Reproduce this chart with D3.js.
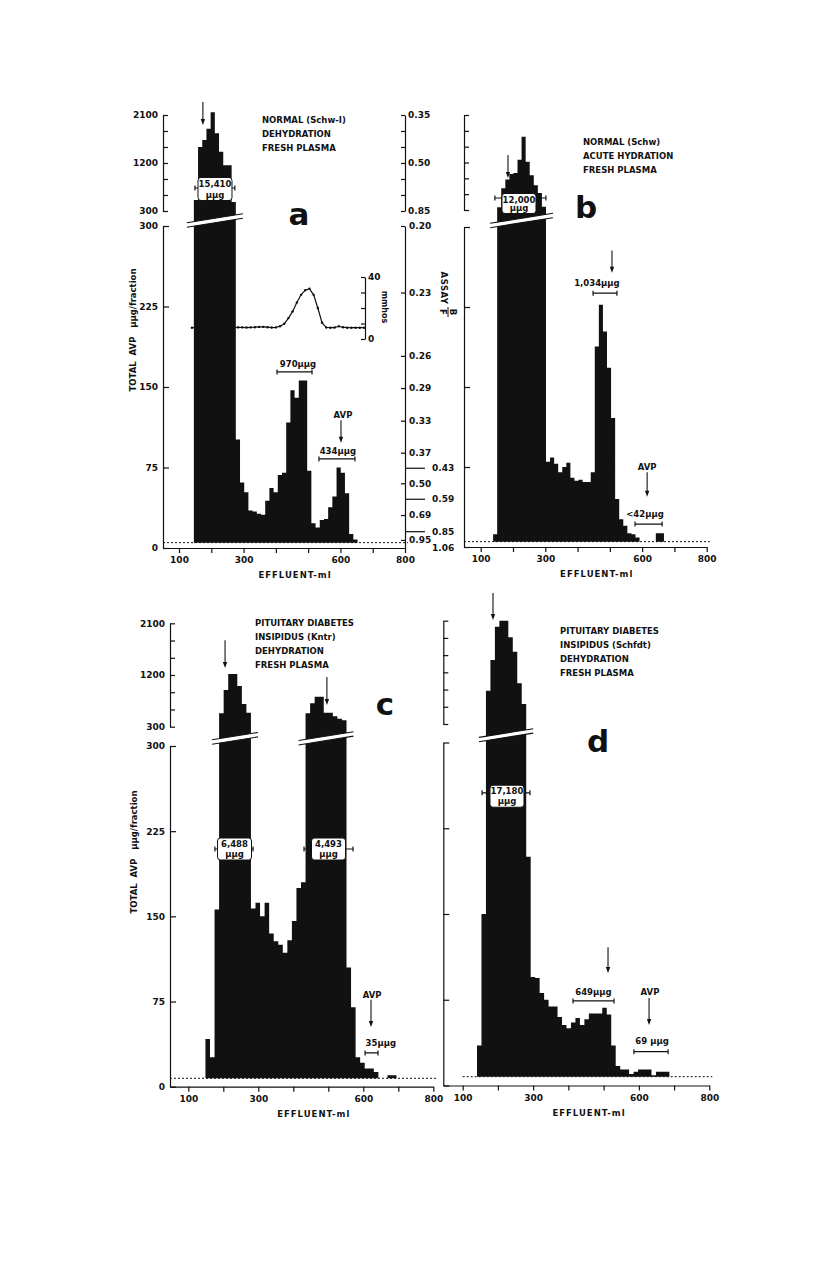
<!DOCTYPE html>
<html>
<head>
<meta charset="utf-8">
<script src="https://cdn.jsdelivr.net/npm/d3@7/dist/d3.min.js"></script>
<style>
body { margin: 0; background: #fff; }
svg text { font-family: "DejaVu Sans", sans-serif; font-weight: bold; fill: #111; }
.lbl { font-size: 8.5px; }
.tk text { font-size: 9px; }
.big { font-size: 31px; }
</style>
</head>
<body>
<svg id="fig" width="816" height="1261"></svg>
<script>
//--shared axis values--
var xTicks = [100, 200, 300, 400, 500, 600, 700, 800];
var xLabels = [100, 300, 600, 800];
var lowTicks = [0, 75, 150, 225, 300];
var upTicks = [300, 600, 900, 1200, 1500, 1800, 2100];
var upLabels = [300, 1200, 2100];

//--panel a: normal, dehydration (fractions of 13 ml from 146 ml)--
var aStartMl = 146, aStepMl = 13, aBase = 5;
var aAvp = [506, 1500, 1630, 1840, 2150, 1760, 1410, 1160, 1160, 470,
  101, 61, 52, 35, 34, 32, 31, 44, 56, 52, 68, 70, 117, 147, 140, 156, 156,
  72, 23, 19, 26, 27, 38, 48, 75, 70, 51, 13, 8];
var aText = ["NORMAL (Schw-I)", "DEHYDRATION", "FRESH PLASMA"];

//--conductivity (mmhos), panel a inset--
var condStartMl = 140, condStepMl = 13;
var condMmhos = [7.3, 7.3, 7.2, 7.3, 7.3, 7.2, 7.3, 7.3, 7.3, 7.4, 7.4, 7.5, 7.5, 7.4,
  7.5, 7.6, 7.8, 7.8, 7.6, 7.4, 7.5, 8.2, 9.8, 13.5, 17.8, 23.5, 28.5, 31.5, 32.5,
  28.5, 20, 10.5, 7.4, 7.3, 7.4, 8.2, 7.6, 7.3, 7.3, 7.3, 7.3, 7.3];
var condTicks = [0, 10, 20, 30, 40];

//--B/F assay scale, panel a right side--
var assayUpLabels = ["0.35", "0.50", "0.85"];
var assayUpAt = [2100, 1200, 300];
var assayLowLabels = ["0.20", "0.23", "0.26", "0.29", "0.33", "0.37", "0.43", "0.50", "0.59", "0.69", "0.85", "0.95", "1.06"];
var assayLowAt = [300, 238, 179, 149, 118.6, 88.8, 74.3, 60.3, 45.4, 30.7, 15.2, 7.5, 0];
var assayKind = ["s", "s", "s", "s", "s", "s", "L", "s", "L", "s", "L", "s", "o"];

//--panel b: normal, acute hydration--
var bStartMl = 138.4, bStepMl = 12.6, bBase = 5;
var bAvp = [12, 350, 710, 880, 980, 1000, 1250, 1690, 1215, 960, 770, 620, 360,
  80, 84, 78, 70, 75, 79, 65, 62, 63, 61, 61, 70, 188, 227, 202, 168, 121,
  45, 26, 20, 13, 12, 9, 0, 0, 0, 0, 13, 13];
var bText = ["NORMAL (Schw)", "ACUTE HYDRATION", "FRESH PLASMA"];

//--panel c: pituitary diabetes insipidus (Kntr)--
var cStartMl = 149, cStepMl = 13, cBase = 7.4;
var cAvp = [42, 26, 156, 533, 939, 1217, 1217, 1008, 695, 544,
  157, 162, 150, 162, 135, 128, 125, 118, 129, 146, 175, 180,
  533, 707, 822, 822, 544, 544, 483, 440, 411,
  105, 70, 26, 21, 16, 16, 13, 0, 0, 10, 10];
var cText = ["PITUITARY DIABETES", "INSIPIDUS (Kntr)", "DEHYDRATION", "FRESH PLASMA"];

//--panel d: pituitary diabetes insipidus (Schfdt)--
var dStartMl = 140.6, dStepMl = 12.7, dBase = 7.7;
var dAvp = [35, 150, 880, 1415, 1995, 2100, 2100, 1810, 1560, 1010, 650,
  200, 95, 94, 81, 75, 69, 69, 60, 53, 50, 55, 59, 53, 58, 63, 63, 63, 68, 62,
  35, 17, 14, 14, 10, 12, 14, 14, 14, 9, 12, 12, 12];
var dText = ["PITUITARY DIABETES", "INSIPIDUS (Schfdt)", "DEHYDRATION", "FRESH PLASMA"];

//--annotations (ml, AVP units)--
var aArrows = [{ml: 174, v1: 2344, v2: 1912}, {ml: 601.7, v1: 119, v2: 98}];
var aBoxes = [{ml: 211.5, v: 712, top: "15,410"}];
var aRanges = [{ml1: 149.5, ml2: 273, v: 731}, {ml1: 403.5, ml2: 512, v: 164}, {ml1: 533.5, ml2: 645, v: 83}];
var aNotes = [{ml: 468.5, v: 169, t: "970μμg"}, {ml: 608, v: 121, t: "AVP"}, {ml: 592, v: 87.6, t: "434μμg"}];

var bArrows = [{ml: 184.5, v1: 1342, v2: 906}, {ml: 506.6, v1: 278, v2: 257}, {ml: 615.5, v1: 70, v2: 47}];
var bBoxes = [{ml: 218.6, v: 423, top: "12,000"}];
var bRanges = [{ml1: 144, ml2: 302, v: 527}, {ml1: 448, ml2: 522, v: 238}, {ml1: 578, ml2: 662, v: 21.5}];
var bNotes = [{ml: 460, v: 245, t: "1,034μμg"}, {ml: 615.5, v: 72, t: "AVP"}, {ml: 609, v: 28, t: "<42μμg"}];

var cArrows = [{ml: 205, v1: 1805, v2: 1322}, {ml: 496, v1: 1165, v2: 678}, {ml: 622, v1: 76.5, v2: 52.6}];
var cBoxes = [{ml: 232, v: 209.3, top: "6,488"}, {ml: 500.6, v: 209.3, top: "4,493"}];
var cRanges = [{ml1: 176, ml2: 285, v: 209.3}, {ml1: 430.6, ml2: 570.6, v: 209.3}, {ml1: 605, ml2: 642, v: 29.7}];
var cNotes = [{ml: 625, v: 78, t: "AVP"}, {ml: 650, v: 36, t: "35μμg"}];

var dArrows = [{ml: 186, v1: 2582, v2: 2112}, {ml: 512.5, v1: 121, v2: 98.4}, {ml: 629, v1: 76.5, v2: 53}];
var dBoxes = [{ml: 225.7, v: 253, top: "17,180"}];
var dRanges = [{ml1: 155, ml2: 291, v: 256}, {ml1: 413, ml2: 529.5, v: 74}, {ml1: 586, ml2: 683, v: 29.6}];
var dNotes = [{ml: 471, v: 79, t: "649μμg"}, {ml: 631.6, v: 79, t: "AVP"}, {ml: 637.5, v: 36, t: "69 μμg"}];

var ink = "#111";
var svg = d3.select("#fig");

//--panel layout--
var panels = [
  {letter: "a", start: aStartMl, step: aStepMl, values: aAvp, base: aBase, text: aText,
   arrows: aArrows, boxes: aBoxes, ranges: aRanges, notes: aNotes,
   axisX: 163, x100: 179, x800: 405, y0: 548, y300: 226, u300: 211, u2100: 115,
   labels: true, dotFrom: null, textX: 262, textY: 123, letterX: 299, letterY: 225,
   yTitleX: 136, yTitleY: 330, boxH: 23},
  {letter: "b", start: bStartMl, step: bStepMl, values: bAvp, base: bBase, text: bText,
   arrows: bArrows, boxes: bBoxes, ranges: bRanges, notes: bNotes,
   axisX: 464, x100: 480.7, x800: 706.7, y0: 547, y300: 227, u300: 210, u2100: 115,
   labels: false, dotFrom: null, textX: 583, textY: 145, letterX: 586, letterY: 218, boxH: 20},
  {letter: "c", start: cStartMl, step: cStepMl, values: cAvp, base: cBase, text: cText,
   arrows: cArrows, boxes: cBoxes, ranges: cRanges, notes: cNotes,
   axisX: 170, x100: 188.3, x800: 433.3, y0: 1086.7, y300: 746, u300: 726.7, u2100: 623.3,
   labels: true, dotFrom: null, textX: 255, textY: 626, letterX: 385, letterY: 715,
   yTitleX: 137, yTitleY: 852, boxH: 22},
  {letter: "d", start: dStartMl, step: dStepMl, values: dAvp, base: dBase, text: dText,
   arrows: dArrows, boxes: dBoxes, ranges: dRanges, notes: dNotes,
   axisX: 443.3, x100: 462.7, x800: 709.3, y0: 1085.5, y300: 742.5, u300: 724, u2100: 620.7,
   labels: false, dotFrom: 100, textX: 560, textY: 634, letterX: 598, letterY: 752, boxH: 22}
];

function styleAxis(sel) {
  sel.attr("font-family", null).attr("font-size", null).classed("tk", true);
  sel.selectAll("path.domain, line").attr("stroke", ink).attr("stroke-width", 1.2);
}

function drawPanel(p) {
  var g = svg.append("g");
  var x = d3.scaleLinear().domain([100, 800]).range([p.x100, p.x800]);
  x.domain([x.invert(p.axisX), 800]).range([p.axisX, p.x800]);
  var yLow = d3.scaleLinear().domain([0, 300]).range([p.y0, p.y300]);
  var yUp = d3.scaleLinear().domain([300, 2100]).range([p.u300, p.u2100]);
  var y = function (v) { return v <= 300 ? yLow(v) : yUp(v); };
  p.x = x; p.y = y; p.yLow = yLow; p.yUp = yUp;

  //基线(虚线)
  var dotStart = p.dotFrom == null ? p.axisX : x(p.dotFrom);
  g.append("line")
    .attr("x1", dotStart).attr("x2", p.x800 + 3)
    .attr("y1", yLow(p.base)).attr("y2", yLow(p.base))
    .attr("stroke", ink).attr("stroke-width", 1).attr("stroke-dasharray", "2,2");

  //直方图
  var pts = p.values.map(function (v, i) { return {ml: p.start + i * p.step, v: Math.max(v, p.base)}; });
  pts.push({ml: p.start + p.values.length * p.step, v: p.base});
  g.append("path").datum(pts)
    .attr("d", d3.area().x(function (d) { return x(d.ml); })
      .y0(yLow(p.base)).y1(function (d) { return y(d.v); })
      .curve(d3.curveStepAfter))
    .attr("fill", ink);

  //断轴标记
  var runs = [];
  p.values.forEach(function (v, i) {
    if (v > 300) {
      var r = runs[runs.length - 1];
      if (r && r[1] === i - 1) r[1] = i; else runs.push([i, i]);
    }
  });
  var ym = (yLow(300) + yUp(300)) / 2 + 2;
  runs.forEach(function (r) {
    var xl = x(p.start + r[0] * p.step) - 7, xr = x(p.start + (r[1] + 1) * p.step) + 7, xm = (xl + xr) / 2;
    var yc = function (xx) { return ym + (xm - xx) * 0.16; };
    g.append("path")
      .attr("d", "M" + xl + "," + (yc(xl) - 2.2) + "L" + xr + "," + (yc(xr) - 2.2) +
        "L" + xr + "," + (yc(xr) + 2.2) + "L" + xl + "," + (yc(xl) + 2.2) + "Z")
      .attr("fill", "#fff");
    [-2.2, 2.2].forEach(function (o) {
      g.append("line").attr("x1", xl).attr("x2", xr)
        .attr("y1", yc(xl) + o).attr("y2", yc(xr) + o)
        .attr("stroke", ink).attr("stroke-width", 1.1);
    });
  });

  //坐标轴
  g.append("g").attr("transform", "translate(0," + p.y0 + ")")
    .call(d3.axisBottom(x).tickValues(xTicks).tickSizeInner(5).tickSizeOuter(0).tickPadding(4)
      .tickFormat(function (d) { return xLabels.indexOf(d) >= 0 ? d : ""; }))
    .call(styleAxis);
  g.append("g").attr("transform", "translate(" + p.axisX + ",0)")
    .call(d3.axisLeft(yLow).tickValues(lowTicks).tickSizeInner(-6).tickSizeOuter(0).tickPadding(5)
      .tickFormat(function (d) { return p.labels ? d : ""; }))
    .call(styleAxis);
  g.append("g").attr("transform", "translate(" + p.axisX + ",0)")
    .call(d3.axisLeft(yUp).tickValues(upTicks).tickSizeInner(-5).tickSizeOuter(0).tickPadding(5)
      .tickFormat(function (d) { return p.labels && upLabels.indexOf(d) >= 0 ? d : ""; }))
    .call(styleAxis);

  g.append("text").attr("class", "lbl")
    .attr("x", (x(300) + x(600)) / 2 + 3).attr("y", p.y0 + 30)
    .attr("text-anchor", "middle").attr("letter-spacing", 1)
    .text("EFFLUENT-ml");

  if (p.yTitleX) {
    g.append("text").attr("class", "lbl")
      .attr("transform", "translate(" + p.yTitleX + "," + p.yTitleY + ") rotate(-90)")
      .attr("text-anchor", "middle").attr("xml:space", "preserve")
      .text("TOTAL  AVP   μμg/fraction");
  }

  //条件说明
  g.selectAll("text.cond").data(p.text).join("text")
    .attr("class", "lbl cond")
    .attr("x", p.textX).attr("y", function (d, i) { return p.textY + i * 14; })
    .text(function (d) { return d; });
  g.append("text").attr("class", "big")
    .attr("x", p.letterX).attr("y", p.letterY).attr("text-anchor", "middle")
    .text(p.letter);

  //范围线
  p.ranges.forEach(function (r) {
    var yy = y(r.v);
    g.append("path")
      .attr("d", "M" + x(r.ml1) + "," + (yy - 2.5) + "V" + (yy + 2.5) + "M" + x(r.ml1) + "," + yy +
        "H" + x(r.ml2) + "M" + x(r.ml2) + "," + (yy - 2.5) + "V" + (yy + 2.5))
      .attr("stroke", ink).attr("stroke-width", 1.2).attr("fill", "none");
  });
  //数值框
  p.boxes.forEach(function (b) {
    var cx = x(b.ml), cy = y(b.v), top = cy - p.boxH / 2;
    g.append("rect").attr("x", cx - 17).attr("y", top).attr("width", 34).attr("height", p.boxH)
      .attr("rx", 3).attr("fill", "#fff").attr("stroke", ink).attr("stroke-width", 1);
    g.append("text").attr("class", "lbl").attr("x", cx).attr("y", top + 9)
      .attr("text-anchor", "middle").text(b.top);
    g.append("text").attr("class", "lbl").attr("x", cx).attr("y", top + p.boxH - 3)
      .attr("text-anchor", "middle").text("μμg");
  });
  //箭头
  p.arrows.forEach(function (a) {
    var ax = x(a.ml), y1 = y(a.v1), y2 = y(a.v2);
    g.append("line").attr("x1", ax).attr("x2", ax).attr("y1", y1).attr("y2", y2 - 4)
      .attr("stroke", ink).attr("stroke-width", 1.1);
    g.append("path").attr("d", "M" + (ax - 2.2) + "," + (y2 - 6) + "L" + (ax + 2.2) + "," + (y2 - 6) + "L" + ax + "," + y2 + "Z")
      .attr("fill", ink);
  });
  //文字注释
  p.notes.forEach(function (n) {
    g.append("text").attr("class", "lbl").attr("x", x(n.ml)).attr("y", y(n.v))
      .attr("text-anchor", "middle").text(n.t);
  });
}

panels.forEach(drawPanel);

//--panel a extras: B/F assay axis and conductivity inset--
var pa = panels[0];
var rightX = 405;
svg.append("g").attr("transform", "translate(" + rightX + ",0)")
  .call(d3.axisRight(pa.yUp).tickValues(upTicks).tickSizeInner(-4).tickSizeOuter(0).tickPadding(3)
    .tickFormat(function (d) { var k = assayUpAt.indexOf(d); return k >= 0 ? assayUpLabels[k] : ""; }))
  .call(styleAxis);
var shortAt = assayLowAt.filter(function (d, i) { return assayKind[i] === "s"; });
svg.append("g").attr("transform", "translate(" + rightX + ",0)")
  .call(d3.axisRight(pa.yLow).tickValues(shortAt).tickSizeInner(-4).tickSizeOuter(0).tickPadding(4)
    .tickFormat(function (d) { return assayLowLabels[assayLowAt.indexOf(d)]; }))
  .call(styleAxis);
assayLowAt.forEach(function (v, i) {
  if (assayKind[i] === "s") return;
  var yy = pa.yLow(v);
  if (assayKind[i] === "L") {
    svg.append("line").attr("x1", rightX).attr("x2", rightX + 20).attr("y1", yy).attr("y2", yy)
      .attr("stroke", ink).attr("stroke-width", 1.2);
  }
  svg.append("text").attr("x", rightX + 27).attr("y", yy).attr("dy", "0.32em")
    .style("font-size", "9px").text(assayLowLabels[i]);
});
var assayG = svg.append("g");
assayG.append("text").attr("class", "lbl")
  .attr("transform", "translate(441,288) rotate(90)").attr("text-anchor", "middle")
  .attr("letter-spacing", 0.5).text("ASSAY");
var frac = assayG.append("g").attr("transform", "translate(448,312) rotate(90)");
frac.append("text").attr("class", "lbl").attr("x", 0).attr("y", -2).attr("text-anchor", "middle").text("B");
frac.append("text").attr("class", "lbl").attr("x", 0).attr("y", 8).attr("text-anchor", "middle").text("F");
frac.append("line").attr("x1", -5).attr("x2", 5).attr("y1", 0).attr("y2", 0).attr("stroke", ink).attr("stroke-width", 1);

var cy = d3.scaleLinear().domain([0, 40]).range([339, 277]);
var condX = 365;
var condPts = condMmhos.map(function (v, i) { return {ml: condStartMl + i * condStepMl, v: v}; });
svg.append("path").datum(condPts)
  .attr("d", d3.line().x(function (d) { return pa.x(d.ml); }).y(function (d) { return cy(d.v); }))
  .attr("fill", "none").attr("stroke", ink).attr("stroke-width", 1.2);
svg.selectAll("circle.cond").data(condPts).join("circle")
  .attr("cx", function (d) { return pa.x(d.ml); }).attr("cy", function (d) { return cy(d.v); })
  .attr("r", 1.2).attr("fill", ink);
svg.append("g").attr("transform", "translate(" + condX + ",0)")
  .call(d3.axisRight(cy).tickValues(condTicks).tickSizeInner(-4).tickSizeOuter(0).tickPadding(3)
    .tickFormat(function (d) { return d === 0 || d === 40 ? d : ""; }))
  .call(styleAxis);
svg.append("text").attr("class", "lbl").style("font-size", "8px")
  .attr("transform", "translate(382,307) rotate(90)").attr("text-anchor", "middle")
  .text("mmhos");
</script>
</body>
</html>
